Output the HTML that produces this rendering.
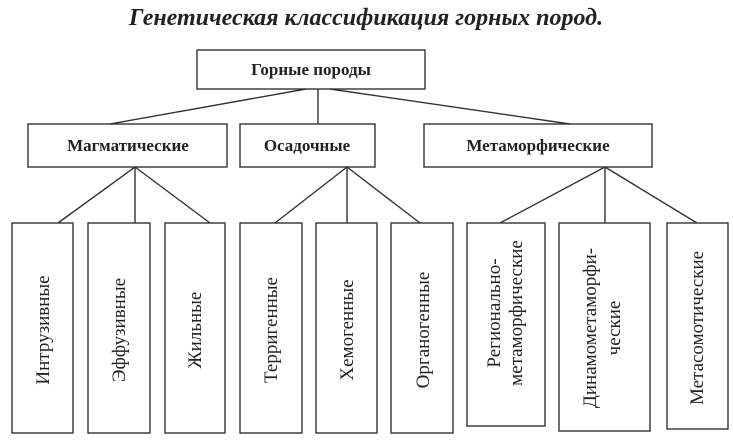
<!DOCTYPE html>
<html><head><meta charset="utf-8"><style>
html,body{margin:0;padding:0;background:#fff;}
svg{display:block;}
text{font-family:"Liberation Serif","DejaVu Serif",serif;fill:#222;}
</style></head><body>
<svg width="733" height="443" viewBox="0 0 733 443" xmlns="http://www.w3.org/2000/svg">
<text x="366" y="25" text-anchor="middle" font-size="24" font-style="italic" font-weight="bold">Генетическая классификация горных пород.</text>
<g fill="none" stroke="#333" stroke-width="1.4">
<rect x="197" y="50" width="228" height="39"/>
<rect x="28" y="124" width="199" height="43"/>
<rect x="240" y="124" width="135" height="43"/>
<rect x="424" y="124" width="228" height="43"/>
<rect x="12" y="223" width="61" height="210"/>
<rect x="88" y="223" width="62" height="210"/>
<rect x="165" y="223" width="60" height="210"/>
<rect x="240" y="223" width="62" height="210"/>
<rect x="316" y="223" width="61" height="210"/>
<rect x="391" y="223" width="62" height="210"/>
<rect x="467" y="223" width="78" height="203"/>
<rect x="559" y="223" width="91" height="208"/>
<rect x="667" y="223" width="61" height="206"/>
<path d="M306 89 L110 124 M318 89 L318 124 M330 89 L570 124"/>
<path d="M135 167 L58 223 M135 167 L135 223 M135 167 L210 223"/>
<path d="M347 167 L275 223 M347 167 L347 223 M347 167 L420 223"/>
<path d="M605 167 L500 223 M605 167 L605 223 M605 167 L697 223"/>
</g>
<g font-weight="bold" font-size="17" text-anchor="middle">
<text x="311" y="75">Горные породы</text>
<text x="128" y="151">Магматические</text>
<text x="307" y="151">Осадочные</text>
<text x="538" y="151">Метаморфические</text>
</g>
<g font-size="19" text-anchor="middle">
<text transform="translate(49,330) rotate(-90)">Интрузивные</text>
<text transform="translate(125,330) rotate(-90)">Эффузивные</text>
<text transform="translate(201,330) rotate(-90)">Жильные</text>
<text transform="translate(277,330) rotate(-90)">Терригенные</text>
<text transform="translate(353,330) rotate(-90)">Хемогенные</text>
<text transform="translate(429,330) rotate(-90)">Органогенные</text>
<text transform="translate(500,313) rotate(-90)">Регионально-</text>
<text transform="translate(522,313) rotate(-90)">метаморфические</text>
<text transform="translate(596,328) rotate(-90)">Динамометаморфи-</text>
<text transform="translate(620,328) rotate(-90)">ческие</text>
<text transform="translate(703,328) rotate(-90)">Метасомотические</text>
</g>
</svg>
</body></html>
